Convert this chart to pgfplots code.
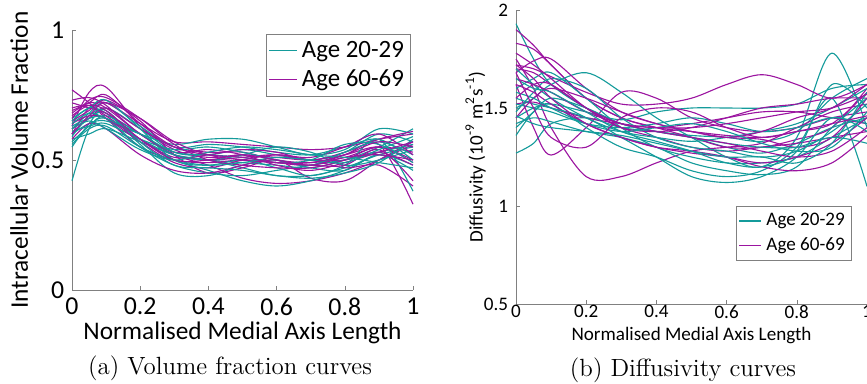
\documentclass[border=0pt]{standalone}
\usepackage{fontspec}
\usepackage{pgfplots}
\usepackage{pgfplotstable}
\pgfplotsset{compat=1.18}
\newfontfamily\calibri{Carlito}
\definecolor{tealc}{RGB}{20,155,155}
\definecolor{purpc}{RGB}{155,20,160}

\pgfplotstableread{
x    c1   c2   c3   c4   c5   c6   c7   c8   c9   c10  c11  c12  c13  c14  c15
0    0.42 0.55 0.60 0.62 0.58 0.65 0.60 0.63 0.57 0.66 0.61 0.59 0.64 0.56 0.62
0.05 0.62 0.64 0.66 0.68 0.60 0.70 0.64 0.66 0.63 0.70 0.63 0.67 0.68 0.62 0.65
0.1  0.66 0.70 0.68 0.72 0.62 0.68 0.65 0.66 0.67 0.73 0.64 0.69 0.66 0.63 0.62
0.2  0.58 0.62 0.56 0.63 0.57 0.58 0.60 0.55 0.60 0.62 0.58 0.57 0.60 0.55 0.54
0.3  0.52 0.53 0.45 0.55 0.52 0.50 0.56 0.48 0.52 0.50 0.54 0.48 0.53 0.50 0.50
0.4  0.50 0.52 0.44 0.56 0.50 0.46 0.58 0.45 0.50 0.48 0.55 0.47 0.52 0.48 0.53
0.5  0.49 0.54 0.48 0.55 0.47 0.42 0.58 0.44 0.52 0.50 0.53 0.46 0.51 0.49 0.55
0.6  0.48 0.52 0.50 0.53 0.44 0.40 0.55 0.46 0.55 0.47 0.50 0.44 0.49 0.51 0.54
0.7  0.47 0.50 0.47 0.52 0.44 0.42 0.52 0.48 0.53 0.44 0.48 0.43 0.50 0.50 0.52
0.8  0.50 0.53 0.46 0.55 0.47 0.46 0.54 0.50 0.48 0.48 0.53 0.45 0.56 0.49 0.51
0.9  0.55 0.60 0.52 0.58 0.52 0.52 0.62 0.53 0.50 0.58 0.57 0.49 0.56 0.54 0.49
1    0.62 0.57 0.46 0.50 0.55 0.48 0.60 0.56 0.54 0.38 0.52 0.58 0.49 0.59 0.47
}\volteal

\pgfplotstableread{
x    c1   c2   c3   c4   c5   c6   c7   c8   c9   c10  c11  c12  c13  c14  c15
0    0.77 0.63 0.68 0.60 0.65 0.72 0.62 0.58 0.70 0.66 0.64 0.73 0.60 0.67 0.69
0.05 0.72 0.76 0.72 0.70 0.69 0.70 0.66 0.64 0.71 0.73 0.67 0.74 0.67 0.71 0.72
0.1  0.66 0.78 0.70 0.72 0.73 0.68 0.70 0.62 0.67 0.74 0.66 0.71 0.72 0.69 0.75
0.2  0.55 0.63 0.60 0.64 0.65 0.60 0.62 0.52 0.58 0.66 0.57 0.60 0.66 0.58 0.64
0.3  0.50 0.54 0.52 0.57 0.52 0.52 0.55 0.46 0.51 0.56 0.49 0.53 0.57 0.50 0.55
0.4  0.49 0.51 0.48 0.57 0.45 0.50 0.53 0.45 0.52 0.50 0.47 0.54 0.52 0.50 0.52
0.5  0.50 0.52 0.43 0.56 0.47 0.51 0.53 0.48 0.54 0.48 0.50 0.52 0.50 0.52 0.51
0.6  0.49 0.51 0.41 0.55 0.50 0.52 0.50 0.51 0.53 0.47 0.52 0.48 0.49 0.50 0.49
0.7  0.48 0.50 0.42 0.54 0.43 0.50 0.49 0.50 0.50 0.47 0.51 0.46 0.48 0.48 0.49
0.8  0.52 0.52 0.45 0.55 0.42 0.50 0.51 0.47 0.53 0.50 0.55 0.49 0.48 0.51 0.52
0.9  0.56 0.55 0.50 0.58 0.50 0.53 0.55 0.48 0.58 0.55 0.60 0.53 0.54 0.52 0.57
1    0.33 0.50 0.56 0.60 0.57 0.48 0.53 0.40 0.61 0.49 0.52 0.57 0.42 0.50 0.55
}\volpurp

\pgfplotstableread{
x    c1   c2   c3   c4   c5   c6   c7   c8   c9   c10  c11  c12  c13  c14  c15
0    1.93 1.27 1.50 1.45 1.36 1.60 1.42 1.52 1.48 1.70 1.55 1.40 1.58 1.46 1.65
0.05 1.75 1.32 1.55 1.50 1.48 1.65 1.45 1.50 1.58 1.62 1.52 1.48 1.55 1.42 1.60
0.1  1.62 1.42 1.62 1.52 1.52 1.68 1.43 1.48 1.65 1.55 1.50 1.55 1.50 1.40 1.58
0.2  1.50 1.45 1.68 1.48 1.40 1.55 1.38 1.42 1.60 1.45 1.45 1.50 1.42 1.38 1.48
0.3  1.42 1.40 1.58 1.44 1.30 1.40 1.35 1.40 1.45 1.38 1.35 1.42 1.38 1.36 1.38
0.4  1.38 1.38 1.45 1.48 1.25 1.30 1.30 1.42 1.35 1.35 1.25 1.38 1.40 1.32 1.33
0.5  1.36 1.35 1.35 1.50 1.18 1.25 1.22 1.45 1.30 1.33 1.15 1.35 1.42 1.28 1.28
0.6  1.35 1.30 1.25 1.50 1.15 1.22 1.18 1.42 1.28 1.35 1.12 1.32 1.38 1.25 1.22
0.7  1.33 1.27 1.20 1.50 1.18 1.22 1.16 1.38 1.25 1.38 1.15 1.30 1.32 1.25 1.20
0.8  1.38 1.32 1.35 1.52 1.30 1.25 1.20 1.40 1.28 1.42 1.25 1.30 1.28 1.22 1.28
0.9  1.55 1.40 1.78 1.60 1.55 1.35 1.40 1.45 1.38 1.50 1.45 1.35 1.30 1.32 1.62
1    1.65 1.45 1.40 1.62 1.10 1.45 1.55 1.42 1.52 1.60 1.38 1.32 1.48 1.58 1.50
}\difteal

\pgfplotstableread{
x    c1   c2   c3   c4   c5   c6   c7   c8   c9   c10  c11  c12  c13  c14  c15
0    1.90 1.83 1.75 1.62 1.72 1.68 1.52 1.70 1.62 1.78 1.45 1.65 1.72 1.55 1.68
0.05 1.82 1.80 1.60 1.40 1.70 1.74 1.53 1.68 1.58 1.72 1.55 1.62 1.65 1.62 1.50
0.1  1.72 1.72 1.40 1.26 1.66 1.75 1.50 1.62 1.52 1.65 1.60 1.58 1.55 1.62 1.35
0.2  1.55 1.55 1.15 1.40 1.58 1.60 1.45 1.50 1.42 1.50 1.55 1.48 1.42 1.50 1.30
0.3  1.45 1.45 1.15 1.58 1.52 1.48 1.42 1.40 1.35 1.40 1.48 1.42 1.35 1.42 1.45
0.4  1.40 1.40 1.22 1.55 1.52 1.42 1.40 1.35 1.30 1.38 1.42 1.38 1.30 1.40 1.50
0.5  1.38 1.35 1.28 1.45 1.55 1.38 1.42 1.30 1.27 1.40 1.38 1.35 1.28 1.40 1.48
0.6  1.36 1.30 1.30 1.40 1.62 1.35 1.45 1.28 1.25 1.45 1.35 1.32 1.25 1.42 1.40
0.7  1.35 1.30 1.32 1.38 1.67 1.34 1.48 1.30 1.22 1.50 1.38 1.28 1.20 1.45 1.35
0.8  1.38 1.34 1.40 1.40 1.62 1.30 1.48 1.32 1.25 1.52 1.45 1.25 1.18 1.48 1.38
0.9  1.42 1.40 1.48 1.45 1.55 1.35 1.45 1.35 1.32 1.55 1.50 1.28 1.22 1.50 1.42
1    1.58 1.60 1.52 1.48 1.62 1.55 1.42 1.38 1.45 1.55 1.62 1.40 1.36 1.57 1.46
}\difpurp

\pgfplotsset{
  myaxis/.style={
    scale only axis,
    axis lines=left,
    axis line style={draw=gray, -},
    major tick style={draw=gray},
    major tick length=2pt,
    tick align=inside,
    xmin=0, xmax=1,
    xtick={0,0.2,0.4,0.6,0.8,1},
    /pgf/number format/assume math mode=true,
    legend style={draw=gray, fill=white, inner sep=1pt},
    legend cell align=left,
    clip=false,
  },
  tcurve/.style={color=tealc, line width=0.5pt, smooth, tension=0.55, forget plot},
  pcurve/.style={color=purpc, line width=0.5pt, smooth, tension=0.55, forget plot},
}

\begin{document}
\begin{tikzpicture}
% ---------- (a) ----------
\begin{axis}[myaxis,
  at={(32.4pt,41.85pt)}, anchor=south west,
  width=153.45pt, height=117pt,
  ymin=0, ymax=1, ytick={0,0.5,1},
  tick label style={font=\fontsize{11.6}{13}\calibri},
  xlabel={Normalised Medial Axis Length},
  ylabel={Intracellular Volume Fraction},
  label style={font=\fontsize{11.4}{13}\calibri},
  xlabel style={at={(axis description cs:0.5,-0.165)}, anchor=center},
  ylabel style={at={(axis description cs:-0.155,0.5)}, anchor=center},
  legend style={at={(0.994,0.985)}, anchor=north east, font=\fontsize{11.2}{13.5}\calibri},
  legend image code/.code={\draw[#1] (0pt,0pt) -- (12.5pt,0pt);},
]
\addlegendimage{color=tealc, line width=0.5pt}
\addlegendentry{Age 20-29}
\addlegendimage{color=purpc, line width=0.5pt}
\addlegendentry{Age 60-69}
\pgfplotsinvokeforeach{1,...,15}{
  \addplot[tcurve] table[x=x, y=c#1] {\volteal};
  \addplot[pcurve] table[x=x, y=c#1] {\volpurp};
}
\end{axis}

% ---------- (b) ----------
\begin{axis}[myaxis,
  at={(232.2pt,35.55pt)}, anchor=south west,
  width=157.95pt, height=132.3pt,
  ymin=0.5, ymax=2, ytick={0.5,1,1.5,2},
  tick label style={font=\fontsize{8.6}{10}\calibri},
  x tick label style={inner sep=1pt, yshift=0.5pt},
  xlabel={Normalised Medial Axis Length},
  ylabel={Diffusivity (10\textsuperscript{-9} m\textsuperscript{2}s\textsuperscript{-1})},
  label style={font=\fontsize{8.6}{10}\calibri},
  xlabel style={at={(axis description cs:0.5,-0.108)}, anchor=center, inner sep=0pt},
  ylabel style={at={(axis description cs:-0.115,0.5)}, anchor=center},
  legend style={at={(0.957,0.146)}, anchor=south east, font=\fontsize{8.6}{10.5}\calibri},
  legend image code/.code={\draw[#1] (0pt,0pt) -- (10pt,0pt);},
]
\addlegendimage{color=tealc, line width=0.5pt}
\addlegendentry{Age 20-29}
\addlegendimage{color=purpc, line width=0.5pt}
\addlegendentry{Age 60-69}
\pgfplotsinvokeforeach{1,...,15}{
  \addplot[tcurve] table[x=x, y=c#1] {\difteal};
  \addplot[pcurve] table[x=x, y=c#1] {\difpurp};
}
\end{axis}

\node[font=\fontsize{11.2}{13}\selectfont] at (103.5pt,6.75pt) {(a) Volume fraction curves};
\node[font=\fontsize{11.2}{13}\selectfont] at (307.35pt,5.85pt) {(b) Diffusivity curves};

\pgfresetboundingbox
\path[use as bounding box] (0pt,0pt) rectangle (390.15pt,172.35pt);
\end{tikzpicture}
\end{document}
